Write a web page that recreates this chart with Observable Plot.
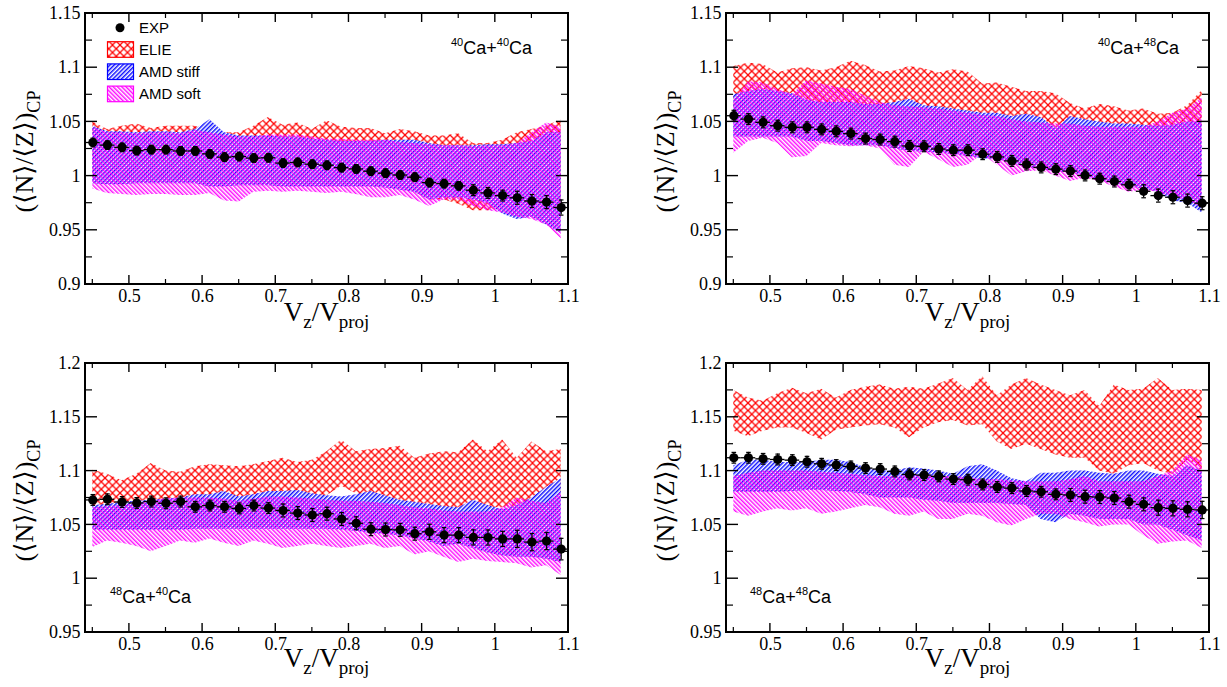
<!DOCTYPE html>
<html><head><meta charset="utf-8">
<script src="https://cdn.jsdelivr.net/npm/d3@7"></script>
<script src="https://cdn.jsdelivr.net/npm/@observablehq/plot@0.6"></script>
<style>
body{margin:0;background:#fff;}
#chart{position:relative;width:1227px;height:687px;overflow:hidden;background:#fff;}
</style></head><body>
<svg width="0" height="0" style="position:absolute">
<defs>
<pattern id="pElie" patternUnits="userSpaceOnUse" width="7.5" height="7.5">
<path d="M-1,-1L8.5,8.5M8.5,-1L-1,8.5" stroke="#ff0000" stroke-width="1.3" fill="none"/>
</pattern>
<pattern id="pStiff" patternUnits="userSpaceOnUse" width="3" height="3" patternTransform="rotate(45)">
<rect width="3" height="3" fill="#ffffff"/>
<line x1="0.75" y1="0" x2="0.75" y2="3" stroke="#0000ff" stroke-width="1.4"/>
</pattern>
<pattern id="pSoft" patternUnits="userSpaceOnUse" width="3" height="3" patternTransform="rotate(-45)">
<line x1="0.75" y1="0" x2="0.75" y2="3" stroke="#ff00ff" stroke-width="1.4"/>
</pattern>
</defs></svg>
<div id="chart"></div>
<script>
// ---------- data ----------
const xPoints = [0.45,0.47,0.49,0.51,0.53,0.55,0.57,0.59,0.61,0.63,0.65,0.67,0.69,0.71,0.73,0.75,0.77,0.79,0.81,0.83,0.85,0.87,0.89,0.91,0.93,0.95,0.97,0.99,1.01,1.03,1.05,1.07,1.09];
const xMajorTicks = [0.5,0.6,0.7,0.8,0.9,1,1.1];
const xMinorTicks = [0.45,0.55,0.65,0.75,0.85,0.95,1.05];
const yMajorTop = [0.9,0.95,1,1.05,1.1,1.15];
const yMinorTop = [0.925,0.975,1.025,1.075,1.125];
const yMajorBottom = [0.95,1,1.05,1.1,1.15,1.2];
const yMinorBottom = [0.975,1.025,1.075,1.125,1.175];
const seriesNames = ["EXP","ELIE","AMD stiff","AMD soft"];

// 40Ca+40Ca
const ca4040Exp = [1.031,1.0286,1.0265,1.0235,1.0244,1.0244,1.0232,1.0232,1.0205,1.0175,1.018,1.0166,1.0169,1.012,1.0126,1.011,1.010,1.0078,1.0066,1.0045,1.0027,1.001,0.999,0.994,0.993,0.991,0.987,0.9845,0.982,0.980,0.977,0.976,0.971];
const ca4040Err = [0.004,0.004,0.004,0.004,0.004,0.004,0.004,0.004,0.004,0.004,0.004,0.004,0.004,0.004,0.004,0.004,0.004,0.004,0.004,0.004,0.004,0.004,0.004,0.004,0.004,0.004,0.005,0.005,0.005,0.006,0.006,0.006,0.007];
const ca4040ElieHi = [1.050,1.043,1.046,1.048,1.044,1.046,1.046,1.046,1.042,1.040,1.040,1.046,1.054,1.047,1.049,1.043,1.051,1.045,1.044,1.044,1.039,1.043,1.041,1.037,1.037,1.039,1.030,1.030,1.033,1.040,1.043,1.046,1.052];
const ca4040ElieLo = [0.998,0.997,0.997,0.996,0.996,0.996,0.996,0.996,0.995,0.995,0.995,0.995,0.995,0.994,0.994,0.994,0.993,0.993,0.992,0.990,0.990,0.988,0.985,0.978,0.978,0.974,0.968,0.968,0.970,0.972,0.972,0.970,0.968];
const ca4040StiffHi = [1.046,1.041,1.041,1.040,1.041,1.041,1.040,1.043,1.052,1.040,1.037,1.037,1.037,1.036,1.036,1.034,1.033,1.032,1.032,1.032,1.033,1.033,1.033,1.030,1.028,1.028,1.028,1.029,1.029,1.030,1.032,1.040,1.040];
const ca4040StiffLo = [0.993,0.992,0.992,0.993,0.993,0.993,0.993,0.993,0.990,0.990,0.991,0.991,0.991,0.990,0.990,0.990,0.990,0.990,0.990,0.990,0.989,0.987,0.985,0.978,0.980,0.980,0.978,0.975,0.965,0.960,0.962,0.955,0.947];
const ca4040SoftHi = [1.045,1.040,1.040,1.039,1.040,1.040,1.039,1.042,1.040,1.038,1.036,1.036,1.038,1.038,1.038,1.036,1.034,1.034,1.033,1.033,1.033,1.031,1.030,1.029,1.028,1.028,1.027,1.028,1.028,1.030,1.040,1.049,1.045];
const ca4040SoftLo = [0.988,0.984,0.983,0.982,0.983,0.983,0.982,0.982,0.984,0.977,0.976,0.985,0.986,0.985,0.986,0.985,0.984,0.985,0.983,0.980,0.980,0.982,0.978,0.972,0.978,0.978,0.972,0.968,0.966,0.962,0.960,0.955,0.942];

// 40Ca+48Ca
const ca4048Exp = [1.0557,1.0526,1.0496,1.0465,1.045,1.045,1.0431,1.0413,1.0392,1.0346,1.0337,1.0318,1.0278,1.0275,1.025,1.0239,1.0239,1.0202,1.0177,1.014,1.0107,1.008,1.0064,1.0046,1.0006,0.9976,0.995,0.992,0.986,0.982,0.9805,0.9774,0.975];
const ca4048Err = [0.005,0.005,0.005,0.005,0.005,0.005,0.005,0.005,0.005,0.005,0.005,0.005,0.005,0.005,0.005,0.005,0.005,0.005,0.005,0.005,0.005,0.005,0.005,0.005,0.005,0.005,0.005,0.005,0.006,0.006,0.006,0.006,0.006];
const ca4048ElieHi = [1.101,1.104,1.103,1.095,1.099,1.100,1.097,1.100,1.106,1.102,1.096,1.097,1.101,1.099,1.095,1.098,1.096,1.085,1.086,1.082,1.078,1.078,1.076,1.067,1.062,1.066,1.064,1.060,1.062,1.057,1.058,1.065,1.079];
const ca4048ElieLo = [1.050,1.050,1.050,1.050,1.050,1.050,1.050,1.050,1.050,1.050,1.050,1.050,1.050,1.050,1.050,1.050,1.050,1.050,1.050,1.050,1.050,1.050,1.045,1.042,1.042,1.042,1.042,1.042,1.042,1.042,1.042,1.042,1.042];
const ca4048StiffHi = [1.075,1.078,1.080,1.078,1.076,1.070,1.068,1.068,1.068,1.066,1.066,1.068,1.071,1.065,1.064,1.062,1.060,1.058,1.058,1.055,1.057,1.054,1.044,1.055,1.052,1.050,1.048,1.048,1.047,1.046,1.047,1.050,1.050];
const ca4048StiffLo = [1.036,1.036,1.036,1.036,1.036,1.032,1.032,1.030,1.028,1.028,1.028,1.025,1.023,1.022,1.021,1.020,1.018,1.016,1.015,1.012,1.008,1.006,1.004,1.003,1.000,0.996,0.993,0.990,0.988,0.985,0.977,0.975,0.966];
const ca4048SoftHi = [1.070,1.087,1.086,1.080,1.075,1.088,1.085,1.082,1.080,1.074,1.068,1.065,1.064,1.063,1.062,1.060,1.058,1.056,1.055,1.052,1.050,1.049,1.048,1.048,1.046,1.045,1.045,1.045,1.045,1.050,1.058,1.062,1.072];
const ca4048SoftLo = [1.021,1.032,1.035,1.030,1.017,1.018,1.030,1.028,1.027,1.028,1.025,1.010,1.008,1.022,1.015,1.008,1.010,1.020,1.010,1.000,1.004,1.005,1.000,0.995,0.998,0.995,0.990,0.985,0.987,0.985,0.980,0.978,0.970];

// 48Ca+40Ca
const ca4840Exp = [1.0732,1.0738,1.0713,1.0704,1.0717,1.0701,1.0717,1.0668,1.068,1.0668,1.0653,1.068,1.0656,1.0634,1.061,1.0592,1.0604,1.0555,1.0515,1.046,1.0457,1.0454,1.0418,1.0436,1.0405,1.0405,1.0384,1.0383,1.037,1.037,1.034,1.035,1.0275];
const ca4840Err = [0.005,0.005,0.005,0.005,0.005,0.005,0.005,0.005,0.005,0.005,0.005,0.005,0.005,0.006,0.006,0.006,0.006,0.006,0.006,0.006,0.006,0.006,0.006,0.007,0.007,0.007,0.007,0.007,0.007,0.008,0.008,0.008,0.01];
const ca4840ElieHi = [1.101,1.097,1.091,1.097,1.107,1.100,1.099,1.104,1.106,1.105,1.104,1.106,1.109,1.112,1.108,1.110,1.118,1.129,1.118,1.120,1.121,1.123,1.112,1.116,1.118,1.117,1.129,1.118,1.129,1.112,1.127,1.118,1.120];
const ca4840ElieLo = [1.066,1.066,1.068,1.068,1.070,1.070,1.070,1.072,1.072,1.074,1.072,1.074,1.076,1.076,1.077,1.076,1.077,1.086,1.079,1.076,1.074,1.070,1.068,1.066,1.066,1.065,1.066,1.066,1.066,1.067,1.070,1.072,1.075];
const ca4840StiffHi = [1.068,1.069,1.071,1.072,1.073,1.074,1.075,1.078,1.078,1.081,1.076,1.078,1.081,1.081,1.082,1.079,1.077,1.076,1.078,1.081,1.077,1.073,1.071,1.069,1.067,1.066,1.073,1.068,1.064,1.068,1.075,1.085,1.093];
const ca4840StiffLo = [1.045,1.045,1.045,1.045,1.045,1.045,1.045,1.046,1.046,1.046,1.046,1.046,1.046,1.046,1.046,1.046,1.046,1.045,1.044,1.042,1.041,1.040,1.037,1.034,1.030,1.032,1.028,1.024,1.021,1.020,1.020,1.018,1.015];
const ca4840SoftHi = [1.066,1.067,1.068,1.070,1.072,1.074,1.075,1.075,1.075,1.074,1.072,1.074,1.076,1.076,1.075,1.074,1.073,1.072,1.072,1.071,1.070,1.068,1.066,1.065,1.063,1.062,1.062,1.062,1.066,1.075,1.072,1.070,1.080];
const ca4840SoftLo = [1.029,1.035,1.033,1.030,1.025,1.030,1.035,1.033,1.037,1.033,1.030,1.035,1.032,1.028,1.030,1.032,1.030,1.028,1.030,1.032,1.028,1.030,1.022,1.025,1.020,1.015,1.018,1.016,1.015,1.014,1.010,1.012,1.003];

// 48Ca+48Ca
const ca4848Exp = [1.1124,1.1124,1.1114,1.1108,1.1102,1.1087,1.1068,1.1056,1.1043,1.1028,1.1019,1.0997,1.0969,1.0963,1.0951,1.0926,1.092,1.0876,1.0852,1.0842,1.0815,1.0808,1.0784,1.0778,1.0762,1.0759,1.075,1.0716,1.0691,1.066,1.0654,1.0645,1.0639];
const ca4848Err = [0.005,0.005,0.005,0.005,0.005,0.005,0.005,0.005,0.005,0.005,0.005,0.005,0.005,0.005,0.005,0.005,0.005,0.005,0.005,0.005,0.005,0.005,0.005,0.006,0.006,0.006,0.006,0.006,0.006,0.007,0.007,0.007,0.008];
const ca4848ElieHi = [1.175,1.168,1.165,1.172,1.177,1.172,1.176,1.168,1.175,1.178,1.180,1.176,1.178,1.176,1.181,1.186,1.175,1.188,1.170,1.180,1.186,1.180,1.175,1.170,1.175,1.160,1.180,1.175,1.176,1.186,1.175,1.176,1.175];
const ca4848ElieLo = [1.137,1.132,1.137,1.140,1.140,1.135,1.129,1.138,1.140,1.142,1.143,1.140,1.131,1.140,1.145,1.147,1.142,1.143,1.127,1.120,1.125,1.120,1.115,1.112,1.112,1.100,1.097,1.105,1.107,1.100,1.097,1.110,1.100];
const ca4848StiffHi = [1.105,1.110,1.110,1.108,1.108,1.108,1.110,1.110,1.108,1.103,1.100,1.100,1.103,1.102,1.100,1.097,1.104,1.106,1.100,1.093,1.090,1.098,1.098,1.100,1.100,1.098,1.097,1.100,1.100,1.097,1.095,1.105,1.100];
const ca4848StiffLo = [1.080,1.080,1.080,1.080,1.081,1.082,1.082,1.081,1.080,1.078,1.075,1.075,1.075,1.073,1.072,1.070,1.070,1.070,1.070,1.069,1.068,1.055,1.052,1.060,1.058,1.055,1.055,1.055,1.050,1.050,1.045,1.040,1.035];
const ca4848SoftHi = [1.095,1.098,1.100,1.100,1.100,1.100,1.099,1.098,1.097,1.096,1.095,1.095,1.096,1.096,1.095,1.095,1.094,1.092,1.092,1.091,1.090,1.090,1.090,1.092,1.095,1.090,1.090,1.090,1.090,1.095,1.100,1.115,1.110];
const ca4848SoftLo = [1.062,1.058,1.062,1.065,1.063,1.065,1.060,1.062,1.065,1.068,1.066,1.060,1.058,1.062,1.055,1.055,1.060,1.058,1.052,1.049,1.055,1.060,1.060,1.055,1.052,1.048,1.050,1.050,1.040,1.032,1.034,1.035,1.028];

// ---------- layout ----------
const panels = [
  {label:[["40","Ca+"],["40","Ca"]], exp:ca4040Exp, err:ca4040Err, elieHi:ca4040ElieHi, elieLo:ca4040ElieLo, stiffHi:ca4040StiffHi, stiffLo:ca4040StiffLo, softHi:ca4040SoftHi, softLo:ca4040SoftLo,
   left:0, top:0, width:613, height:343, mL:85, mR:45, mT:13, mB:59, yDomain:[0.9,1.15], yMajor:yMajorTop, yMinor:yMinorTop, legend:true, labelDx:366, labelDy:41, titleDy:37},
  {label:[["40","Ca+"],["48","Ca"]], exp:ca4048Exp, err:ca4048Err, elieHi:ca4048ElieHi, elieLo:ca4048ElieLo, stiffHi:ca4048StiffHi, stiffLo:ca4048StiffLo, softHi:ca4048SoftHi, softLo:ca4048SoftLo,
   left:613, top:0, width:614, height:343, mL:113, mR:18, mT:13, mB:59, yDomain:[0.9,1.15], yMajor:yMajorTop, yMinor:yMinorTop, legend:false, labelDx:372, labelDy:41, titleDy:37},
  {label:[["48","Ca+"],["40","Ca"]], exp:ca4840Exp, err:ca4840Err, elieHi:ca4840ElieHi, elieLo:ca4840ElieLo, stiffHi:ca4840StiffHi, stiffLo:ca4840StiffLo, softHi:ca4840SoftHi, softLo:ca4840SoftLo,
   left:0, top:343, width:613, height:344, mL:85, mR:45, mT:20, mB:55, yDomain:[0.95,1.2], yMajor:yMajorBottom, yMinor:yMinorBottom, legend:false, labelDx:25, labelDy:240, titleDy:35},
  {label:[["48","Ca+"],["48","Ca"]], exp:ca4848Exp, err:ca4848Err, elieHi:ca4848ElieHi, elieLo:ca4848ElieLo, stiffHi:ca4848StiffHi, stiffLo:ca4848StiffLo, softHi:ca4848SoftHi, softLo:ca4848SoftLo,
   left:613, top:343, width:614, height:344, mL:113, mR:18, mT:20, mB:55, yDomain:[0.95,1.2], yMajor:yMajorBottom, yMinor:yMinorBottom, legend:false, labelDx:24, labelDy:240, titleDy:35}
];

const SERIF = "'Liberation Serif', 'Times New Roman', 'DejaVu Serif', serif";
const SANS = "'Liberation Sans', Arial, Helvetica, sans-serif";
const capSymbol = {draw(ctx, size){ const w = Math.sqrt(size/Math.PI); ctx.moveTo(-w,0); ctx.lineTo(w,0); }};

function frameMark(p) {
  return (index, scales, values, dims) => {
    const x0 = dims.marginLeft, x1 = dims.width - dims.marginRight;
    const y0 = dims.marginTop, y1 = dims.height - dims.marginBottom;
    const g = d3.create("svg:g").attr("fill","none").attr("stroke","#000");
    const tick = (xa, ya, xb, yb, w) => g.append("line").attr("x1",xa).attr("y1",ya).attr("x2",xb).attr("y2",yb).attr("stroke-width",w);
    for (const v of xMajorTicks) { const x = scales.x(v); tick(x,y1,x,y1-9,1.4); tick(x,y0,x,y0+9,1.4); }
    for (const v of xMinorTicks) { const x = scales.x(v); tick(x,y1,x,y1-5,1.2); tick(x,y0,x,y0+5,1.2); }
    for (const v of p.yMajor) { const y = scales.y(v); tick(x0,y,x0+12,y,1.4); tick(x1,y,x1-12,y,1.4); }
    for (const v of p.yMinor) { const y = scales.y(v); tick(x0,y,x0+7,y,1.2); tick(x1,y,x1-7,y,1.2); }
    g.append("rect").attr("x",x0).attr("y",y0).attr("width",x1-x0).attr("height",y1-y0).attr("stroke-width",2);
    return g.node();
  };
}

function titlesMark(p) {
  return (index, scales, values, dims) => {
    const x0 = dims.marginLeft, x1 = dims.width - dims.marginRight;
    const y0 = dims.marginTop, y1 = dims.height - dims.marginBottom;
    const g = d3.create("svg:g").attr("fill","#000");
    // x title
    const xt = g.append("text").attr("x",(x0+x1)/2).attr("y",y1+p.titleDy).attr("text-anchor","middle")
      .attr("font-family",SERIF).attr("font-size",27);
    xt.append("tspan").text("V");
    xt.append("tspan").attr("dy",7).attr("font-size",19).text("z");
    xt.append("tspan").attr("dy",-7).text("/V");
    xt.append("tspan").attr("dy",7).attr("font-size",19).text("proj");
    // y title
    const cx = x0 - 52, cy = (y0+y1)/2 + 3;
    const yt = g.append("text").attr("transform",`translate(${cx},${cy}) rotate(-90)`).attr("text-anchor","middle")
      .attr("font-family",SERIF).attr("font-size",26);
    yt.append("tspan").text("(\u27E8N\u27E9/\u27E8Z\u27E9)");
    yt.append("tspan").attr("dy",7).attr("font-size",18).text("CP");
    // reaction label
    const lt = g.append("text").attr("x",x0+p.labelDx).attr("y",y0+p.labelDy).attr("text-anchor","start")
      .attr("font-family",SANS).attr("font-size",18);
    for (const [sup, main] of p.label) {
      lt.append("tspan").attr("dy",-8).attr("font-size",11).text(sup);
      lt.append("tspan").attr("dy",8).text(main);
    }
    return g.node();
  };
}

function legendMark(index, scales, values, dims) {
  const fx = dims.marginLeft, fy = dims.marginTop;
  const g = d3.create("svg:g").attr("font-family",SANS).attr("font-size",15).attr("text-anchor","start");
  g.append("circle").attr("cx",fx+35).attr("cy",fy+14.7).attr("r",4.5).attr("fill","#000");
  g.append("text").attr("x",fx+54).attr("y",fy+14.7).attr("dy","0.36em").attr("fill","#000").text(seriesNames[0]);
  const fills = ["url(#pElie)","url(#pStiff)","url(#pSoft)"];
  const strokes = ["#ff0000","#0000ff","#ff00ff"];
  for (let i = 0; i < 3; i++) {
    const cy = fy + 36.5 + i*22.2;
    g.append("rect").attr("x",fx+22.5).attr("y",cy-7.8).attr("width",26).attr("height",15.6)
      .attr("fill",fills[i]).attr("stroke",strokes[i]).attr("stroke-width",1.2);
    g.append("text").attr("x",fx+54).attr("y",cy).attr("dy","0.36em").attr("fill","#000").text(seriesNames[i+1]);
  }
  return g.node();
}

const chart = document.getElementById("chart");
for (const p of panels) {
  const bands = xPoints.map((x,i) => ({x, elieLo:p.elieLo[i], elieHi:p.elieHi[i], stiffLo:p.stiffLo[i], stiffHi:p.stiffHi[i], softLo:p.softLo[i], softHi:p.softHi[i]}));
  const rows = xPoints.map((x,i) => ({x, y:p.exp[i], e:p.err[i]}));
  const marks = [
    Plot.areaY(bands, {x:"x", y1:"elieLo", y2:"elieHi", fill:"url(#pElie)"}),
    Plot.areaY(bands, {x:"x", y1:"stiffLo", y2:"stiffHi", fill:"url(#pStiff)"}),
    Plot.areaY(bands, {x:"x", y1:"softLo", y2:"softHi", fill:"url(#pSoft)"}),
    frameMark(p),
    Plot.axisX({ticks:xMajorTicks, tickSize:0, tickPadding:5, tickFormat:d=>String(d), fontSize:18, fontFamily:SERIF, label:null}),
    Plot.axisY({ticks:p.yMajor, tickSize:0, tickPadding:5, tickFormat:d=>String(d), fontSize:18, fontFamily:SERIF, label:null}),
    Plot.ruleY(rows, {y:"y", x1:d=>d.x-0.01, x2:d=>d.x+0.01, stroke:"#000", strokeWidth:1.3}),
    Plot.ruleX(rows, {x:"x", y1:d=>d.y-d.e, y2:d=>d.y+d.e, stroke:"#000", strokeWidth:1.3}),
    Plot.dot(rows, {x:"x", y:d=>d.y+d.e, symbol:capSymbol, r:2.3, stroke:"#000", strokeWidth:1.2, fill:"none"}),
    Plot.dot(rows, {x:"x", y:d=>d.y-d.e, symbol:capSymbol, r:2.3, stroke:"#000", strokeWidth:1.2, fill:"none"}),
    Plot.dot(rows, {x:"x", y:"y", r:4.6, fill:"#000", stroke:"none"}),
    titlesMark(p)
  ];
  if (p.legend) marks.push(legendMark);
  const svg = Plot.plot({
    width:p.width, height:p.height,
    marginLeft:p.mL, marginRight:p.mR, marginTop:p.mT, marginBottom:p.mB,
    x:{domain:[0.44,1.1], label:null},
    y:{domain:p.yDomain, label:null},
    style:{fontFamily:SERIF, fontSize:"18px", background:"transparent", color:"#000", overflow:"visible"},
    marks
  });
  svg.style.position = "absolute";
  svg.style.left = p.left + "px";
  svg.style.top = p.top + "px";
  chart.appendChild(svg);
}
</script>
</body></html>
